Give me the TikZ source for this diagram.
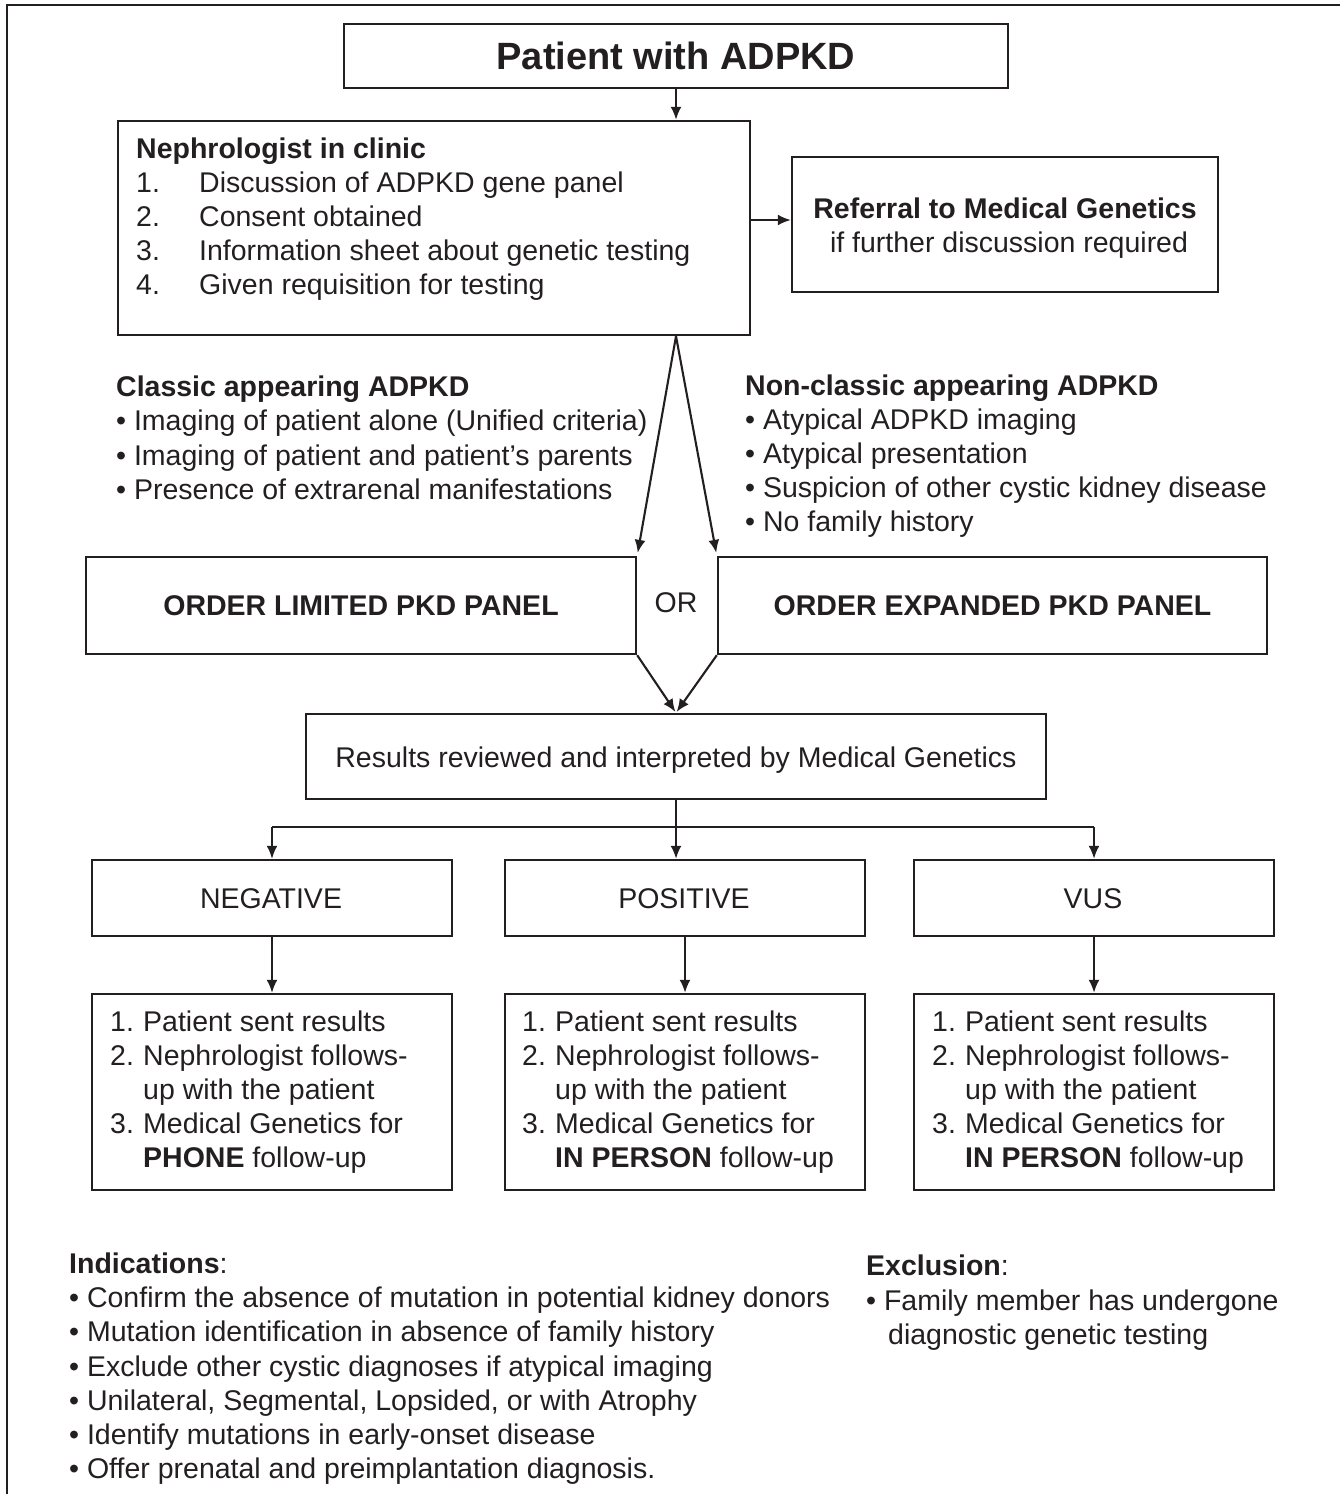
\documentclass[tikz,border=0pt]{standalone}
\usepackage{fontspec}
\setmainfont{Liberation Sans}
\usetikzlibrary{arrows.meta,calc}
\definecolor{ink}{HTML}{231F20}
\newcommand{\bodyfont}{\fontsize{28.5}{34}\selectfont}
\begin{document}
\begin{tikzpicture}[x=1pt,y=-1pt,
  box/.style={draw=ink, line width=2.4pt, rectangle, inner sep=0pt, text=ink,
    font=\bodyfont},
  txt/.style={text=ink, font=\bodyfont, inner sep=0pt, anchor=base west},
  ctxt/.style={txt, anchor=base},
  arr/.style={draw=ink, line width=2.1pt, -{Latex[length=13pt,width=11pt]}},
  plain/.style={draw=ink, line width=2.1pt}]
\useasboundingbox (0,0) rectangle (1340,1494);
% frame (cropped)
\draw[ink, line width=2pt] (1340,5) -- (7,5) -- (7,1494);

% title
\node[box, minimum width=664pt, minimum height=64pt,
  font=\fontsize{38}{40}\selectfont\bfseries] (title) at (676,56) {Patient with ADPKD};

% nephrologist box
\node[box, minimum width=632pt, minimum height=214pt] (neph) at (434,228) {};
\node[txt, font=\bodyfont\bfseries] (nephh) at (136,158) {Nephrologist in clinic};
\node[txt] (nn1) at (136,192) {1.};
\node[txt] (nt1) at (199,192) {Discussion of ADPKD gene panel};
\node[txt] (nn2) at (136,226) {2.};
\node[txt] (nt2) at (199,226) {Consent obtained};
\node[txt] (nn3) at (136,260) {3.};
\node[txt] (nt3) at (199,260) {Information sheet about genetic testing};
\node[txt] (nn4) at (136,294) {4.};
\node[txt] (nt4) at (199,294) {Given requisition for testing};

% referral box
\node[box, minimum width=426pt, minimum height=135pt] (ref) at (1005,224.5) {};
\node[ctxt, font=\bodyfont\bfseries] (ref1) at (1005,218) {Referral to Medical Genetics};
\node[ctxt] (ref2) at (1009,252) {if further discussion required};

\draw[arr] (title.south) -- (title.south |- neph.north);
\draw[arr] (neph.east |- 0,220) -- (ref.west |- 0,220);

% classic / non-classic
\node[txt, font=\bodyfont\bfseries] (clh) at (116,396) {Classic appearing ADPKD};
\node[txt] (cl1) at (116,430) {• Imaging of patient alone (Unified criteria)};
\node[txt] (cl2) at (116,465) {• Imaging of patient and patient’s parents};
\node[txt] (cl3) at (116,499) {• Presence of extrarenal manifestations};

\node[txt, font=\bodyfont\bfseries] (nch) at (745,395) {Non-classic appearing ADPKD};
\node[txt] (nc1) at (745,429) {• Atypical ADPKD imaging};
\node[txt] (nc2) at (745,463) {• Atypical presentation};
\node[txt] (nc3) at (745,497) {• Suspicion of other cystic kidney disease};
\node[txt] (nc4) at (745,531) {• No family history};

% order boxes
\node[box, minimum width=550pt, minimum height=97pt,
  font=\bodyfont\bfseries] (lim) at (361,605.5) {ORDER LIMITED PKD PANEL};
\node[box, minimum width=549pt, minimum height=97pt,
  font=\bodyfont\bfseries] (exp) at (992.5,605.5) {ORDER EXPANDED PKD PANEL};
\node[text=ink, font=\bodyfont, inner sep=0pt] (or) at (676,603) {OR};

\coordinate (apex) at (title.south |- neph.south);
\draw[arr, shorten >=3pt] (apex) -- (lim.north east);
\draw[arr, shorten >=3pt] (apex) -- (exp.north west);

% results box
\node[box, minimum width=740pt, minimum height=85pt] (res) at (676,756.5) {};
\node[ctxt] (restxt) at (676,767) {Results reviewed and interpreted by Medical Genetics};
\draw[arr, shorten >=1pt] (lim.south east) -- (res.north);
\draw[arr, shorten >=1pt] (exp.south west) -- (res.north);

% outcome boxes
\node[box, minimum width=360pt, minimum height=76pt] (neg) at (272,898) {};
\node[box, minimum width=360pt, minimum height=76pt] (pos) at (685,898) {};
\node[box, minimum width=360pt, minimum height=76pt] (vus) at (1094,898) {};
\node[ctxt] (negtxt) at (271,908) {NEGATIVE};
\node[ctxt] (postxt) at (684,908) {POSITIVE};
\node[ctxt] (vustxt) at (1093,908) {VUS};

\coordinate (br) at ($(res.south)+(0,27)$);
\draw[plain] (neg.north |- br) -- (vus.north |- br);
\draw[arr] (br -| neg.north) -- (neg.north);
\draw[arr] (br -| vus.north) -- (vus.north);
\draw[arr] (res.south) -- (res.south |- pos.north);

% follow-up boxes
\node[box, minimum width=360pt, minimum height=196pt] (neg2) at (272,1092) {};
\node[box, minimum width=360pt, minimum height=196pt] (pos2) at (685,1092) {};
\node[box, minimum width=360pt, minimum height=196pt] (vus2) at (1094,1092) {};
\draw[arr] (neg.south) -- (neg2.north);
\draw[arr] (pos.south) -- (pos2.north);
\draw[arr] (vus.south) -- (vus2.north);

\foreach \c/\nx/\bw in {neg/110/PHONE, pos/522/IN PERSON, vus/932/IN PERSON}{
  \node[txt] (\c-n1) at (\nx,1031) {1.};
  \node[txt] (\c-t1) at (\nx+33,1031) {Patient sent results};
  \node[txt] (\c-n2) at (\nx,1065) {2.};
  \node[txt] (\c-t2) at (\nx+33,1065) {Nephrologist follows-};
  \node[txt] (\c-t2b) at (\nx+33,1099) {up with the patient};
  \node[txt] (\c-n3) at (\nx,1133) {3.};
  \node[txt] (\c-t3) at (\nx+33,1133) {Medical Genetics for};
  \node[txt] (\c-t3b) at (\nx+33,1167) {\textbf{\bw} follow-up};
}

% indications
\node[txt] (indh) at (69,1273) {\textbf{Indications}:};
\node[txt] (ind1) at (69,1307) {• Confirm the absence of mutation in potential kidney donors};
\node[txt] (ind2) at (69,1341) {• Mutation identification in absence of family history};
\node[txt] (ind3) at (69,1376) {• Exclude other cystic diagnoses if atypical imaging};
\node[txt] (ind4) at (69,1410) {• Unilateral, Segmental, Lopsided, or with Atrophy};
\node[txt] (ind5) at (69,1444) {• Identify mutations in early-onset disease};
\node[txt] (ind6) at (69,1478) {• Offer prenatal and preimplantation diagnosis.};

% exclusion
\node[txt] (exh) at (866,1275) {\textbf{Exclusion}:};
\node[txt] (ex1) at (866,1310) {• Family member has undergone};
\node[txt] (ex2) at (888,1344) {diagnostic genetic testing};
\end{tikzpicture}
\end{document}
